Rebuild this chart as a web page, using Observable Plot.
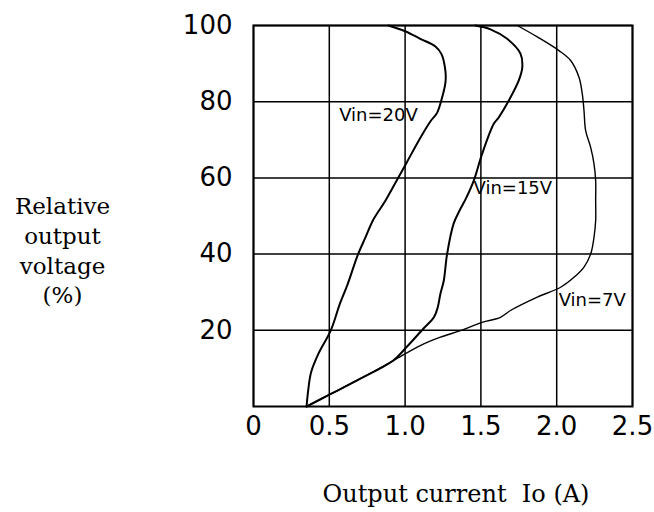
<!DOCTYPE html>
<html>
<head>
<meta charset="utf-8">
<script src="https://cdn.jsdelivr.net/npm/d3@7"></script>
<script src="https://cdn.jsdelivr.net/npm/@observablehq/plot@0.6"></script>
<style>
  html, body { margin: 0; padding: 0; background: #fff; }
  #chart { width: 654px; height: 512px; }
</style>
</head>
<body>
<div id="chart"></div>
<script>
// Tick values
const xTicks = [0, 0.5, 1.0, 1.5, 2.0, 2.5];
const yTicks = [20, 40, 60, 80, 100];

// Vin = 20V curve (current A, relative voltage %)
const v20Current = [0.35, 0.36, 0.38, 0.43, 0.51, 0.57, 0.62, 0.69, 0.74, 0.79, 0.87, 0.94, 1.01, 1.10, 1.17, 1.21, 1.24, 1.266, 1.266, 1.24, 1.20, 1.10, 1.00, 0.89];
const v20Voltage = [0, 4, 9, 14, 20, 27, 32, 40, 44.5, 49, 54, 59, 64, 70.5, 75, 77, 80.5, 85, 88, 92.5, 94.5, 96.5, 98.5, 100];

// Vin = 15V curve
const v15Current = [0.35, 0.51, 0.68, 0.92, 1.01, 1.12, 1.19, 1.215, 1.233, 1.255, 1.277, 1.32, 1.36, 1.40, 1.453, 1.508, 1.585, 1.618, 1.684, 1.75, 1.773, 1.761, 1.673, 1.563, 1.464];
const v15Voltage = [0, 3.3, 6.8, 12, 15.6, 20.4, 23.4, 26, 29.6, 33, 40, 48, 51.5, 54.5, 59.3, 66.3, 74.2, 75.9, 80.3, 85.6, 89, 92.6, 96.5, 99, 100];

// Vin = 7V curve
const v7Current = [0.35, 0.51, 0.68, 0.92, 1.10, 1.233, 1.365, 1.508, 1.629, 1.695, 1.872, 2.026, 2.114, 2.18, 2.224, 2.246, 2.257, 2.257, 2.257, 2.246, 2.224, 2.191, 2.18, 2.169, 2.147, 2.092, 2.015, 1.872, 1.74];
const v7Voltage = [0, 3.3, 6.8, 12, 16, 18.2, 19.9, 22.1, 23.4, 25.2, 28.7, 31.3, 33.9, 36.6, 40, 44.4, 48.8, 54, 59.3, 63.7, 68, 72.4, 77.7, 82, 86.4, 90.8, 93.4, 97, 100];

// Curve labels
const labelText = ["Vin=20V", "Vin=15V", "Vin=7V"];
const labelCurrent = [0.565, 1.451, 2.013];
const labelVoltage = [76.4, 57.2, 27.8];

const xTitle = "Output current  Io (A)";
const yTitle = "Relative\noutput\nvoltage\n(%)";

const toRows = (xs, ys) => xs.map((x, i) => ({x, y: ys[i]}));
const labels = labelText.map((t, i) => ({t, x: labelCurrent[i], y: labelVoltage[i]}));

const chart = Plot.plot({
  width: 654,
  height: 512,
  marginLeft: 253,
  marginRight: 22,
  marginTop: 25,
  marginBottom: 106,
  style: {fontFamily: "DejaVu Sans", background: "#fff", color: "#000"},
  x: {domain: [0, 2.5]},
  y: {domain: [0, 100]},
  marks: [
    Plot.gridX(xTicks, {stroke: "#000", strokeOpacity: 1, strokeWidth: 1.5}),
    Plot.gridY(yTicks, {stroke: "#000", strokeOpacity: 1, strokeWidth: 1.5}),
    Plot.frame({stroke: "#000", strokeWidth: 2}),
    Plot.axisX(xTicks, {tickSize: 0, tickPadding: 10, fontSize: 26, label: null,
      tickFormat: d => d === 0 ? "0" : d.toFixed(1)}),
    Plot.axisY(yTicks, {tickSize: 0, tickPadding: 21, fontSize: 26, label: null}),
    Plot.line(toRows(v20Current, v20Voltage), {x: "x", y: "y", curve: "catmull-rom", stroke: "#000", strokeWidth: 2}),
    Plot.line(toRows(v15Current, v15Voltage), {x: "x", y: "y", curve: "catmull-rom", stroke: "#000", strokeWidth: 2}),
    Plot.line(toRows(v7Current, v7Voltage), {x: "x", y: "y", curve: "catmull-rom", stroke: "#000", strokeWidth: 1.4}),
    Plot.text(labels, {x: "x", y: "y", text: "t", textAnchor: "start", fontSize: 18, fill: "#000"}),
    Plot.text([xTitle], {frameAnchor: "bottom", dx: 13, dy: 88, lineAnchor: "middle",
      fontFamily: "DejaVu Serif", fontSize: 24, fill: "#000", style: "letter-spacing:2.8px"}),
    Plot.text([yTitle], {frameAnchor: "left", dx: -191, dy: 33, lineAnchor: "middle", textAnchor: "middle",
      lineHeight: 1.3, fontFamily: "DejaVu Serif", fontSize: 23, fill: "#000", style: "letter-spacing:1.2px"})
  ]
});
document.getElementById("chart").appendChild(chart);
</script>
</body>
</html>
